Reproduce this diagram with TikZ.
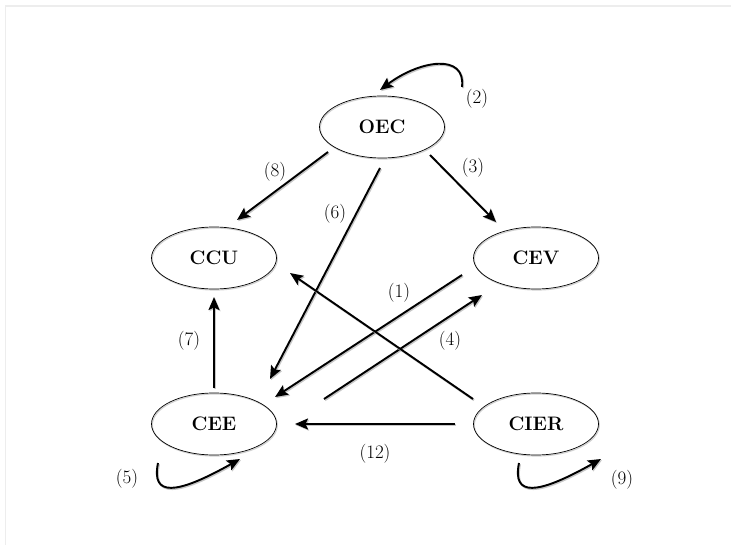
\documentclass[tikz,border=0pt]{standalone}
\usepackage{fontspec}
\usetikzlibrary{arrows.meta,calc,shapes.geometric}
\begin{document}
\begin{tikzpicture}[x=1pt,y=-1pt,
  state/.style={draw=black,line width=0.7pt,ellipse,minimum width=125pt,minimum height=62pt,
    inner sep=0pt,font=\fontsize{19.5}{22}\selectfont\bfseries,
    preaction={draw=black!18,line width=1.2pt,transform canvas={shift={(0.8pt,-1pt)}}}},
  link/.style={line width=1.9pt,-{Stealth[length=13pt,width=11pt,inset=2.5pt]},
    preaction={draw=black!22,line width=2pt,transform canvas={shift={(1pt,-1.2pt)}}}},
  lbl/.style={font=\fontsize{19}{22}\selectfont\addfontfeatures{Numbers=OldStyle}},
  frameline/.style={draw=black!7,line width=1.5pt}]
  \useasboundingbox (0,0) rectangle (731,545);
  % light frame along the top and left edges
  \draw[frameline] (731,6) -- (5.5,6) -- (5.5,545);

  % states
  \node[state] (OEC)  at (382,127) {OEC};
  \node[state] (CCU)  at (214,258) {CCU};
  \node[state] (CEV)  at (536,258) {CEV};
  \node[state] (CEE)  at (214,424) {CEE};
  \node[state] (CIER) at (536,424) {CIER};

  % connector ends, placed relative to the states
  \coordinate (s8)  at ($(OEC)+(-54,25)$);
  \coordinate (t8)  at ($(CCU)+(23,-38)$);
  \coordinate (s3)  at ($(OEC)+(48,28)$);
  \coordinate (t3)  at ($(CEV)+(-40,-36)$);
  \coordinate (s6)  at ($(OEC)+(-2,41)$);
  \coordinate (t6)  at ($(CEE)+(56,-45)$);
  \coordinate (s1)  at ($(CEV)+(-74,17)$);
  \coordinate (t1)  at ($(CEE)+(61,-27)$);
  \coordinate (s4)  at ($(CEE)+(110,-25)$);
  \coordinate (t4)  at ($(CEV)+(-54,37)$);
  \coordinate (s10) at ($(CIER)+(-63,-25)$);
  \coordinate (t10) at ($(CCU)+(76,15)$);
  \coordinate (s7)  at ($(CEE)+(0,-36)$);
  \coordinate (t7)  at ($(CCU)+(0,39)$);
  \coordinate (s12) at ($(CIER)+(-81,0)$);
  \coordinate (t12) at ($(CEE)+(81,0)$);

  % transitions between states
  \draw[link] (s8) -- (t8);
  \draw[link] (s3) -- (t3);
  \draw[link] (s6) -- (t6);
  \draw[link] (s1) -- (t1);
  \draw[link] (s4) -- (t4);
  \draw[link] (s10) -- (t10);
  \draw[link] (s7) -- (t7);
  \draw[link] (s12) -- (t12);

  % self loops
  \coordinate (s2) at ($(OEC)+(80,-40)$);
  \coordinate (t2) at ($(OEC)+(-2,-37)$);
  \draw[link] (s2) .. controls ($(s2)+(4,-34)$) and ($(t2)+(40,-30)$) .. (t2);
  \coordinate (s5) at ($(CEE)+(-56,39)$);
  \coordinate (t5) at ($(CEE)+(26,35)$);
  \draw[link] (s5) .. controls ($(s5)+(-7,34)$) and ($(s5)+(18,32)$) .. (t5);
  \coordinate (s9) at ($(CIER)+(-17,39)$);
  \coordinate (t9) at ($(CIER)+(65,35)$);
  \draw[link] (s9) .. controls ($(s9)+(-7,34)$) and ($(s9)+(18,32)$) .. (t9);

  % transition numbers
  \node[lbl] (l1)  at (399,293) {(1)};
  \node[lbl] (l2)  at (477,99)  {(2)};
  \node[lbl] (l3)  at (473,168) {(3)};
  \node[lbl] (l4)  at (450,341) {(4)};
  \node[lbl] (l5)  at (127,479) {(5)};
  \node[lbl] (l6)  at (335,214) {(6)};
  \node[lbl] (l7)  at (189,341) {(7)};
  \node[lbl] (l8)  at (275,172) {(8)};
  \node[lbl] (l9)  at (622,480) {(9)};
  \node[lbl] (l12) at (375,454) {(12)};
\end{tikzpicture}
\end{document}
